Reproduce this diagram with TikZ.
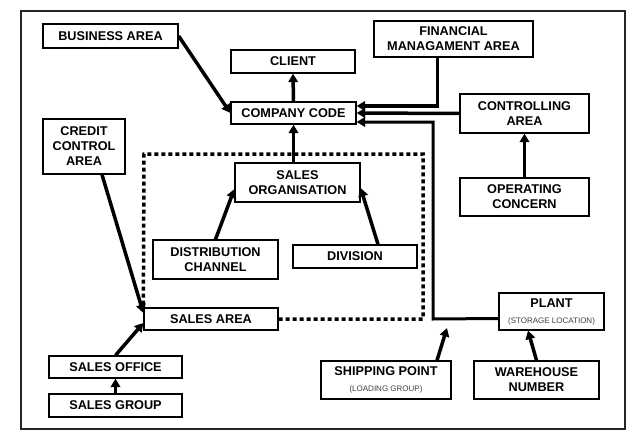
\documentclass[tikz,border=0pt]{standalone}
\usepackage{fontspec}
\setmainfont{Liberation Sans}
\usepackage{tikz}
\usetikzlibrary{arrows.meta}
\newcommand{\smallnote}[1]{{\fontsize{8}{9}\selectfont\mdseries\color{black!75}#1}}

\begin{document}
\begin{tikzpicture}[x=1pt, y=-1pt,
		box/.style = {draw, line width=1.3pt, align=center, inner sep=0pt, font=\fontsize{12.7}{15}\selectfont\bfseries},
		arr/.style = {line width=3.5pt, -{Triangle[width=9.5pt,length=8.5pt]}},
		dotline/.style = {line width=3.5pt, dash pattern=on 4pt off 3pt}]
		\useasboundingbox (0,0) rectangle (633,439);
		\draw[line width=1.3pt, black!85] (21,11) rectangle (625,429);
		% boxes
		\node[box, minimum width=135pt, minimum height=24pt] (ba) at (110.5,36) {BUSINESS AREA};
		\node[box, minimum width=124pt, minimum height=23pt] (cl) at (293,61.5) {CLIENT};
		\node[box, minimum width=125pt, minimum height=22pt] (cc) at (293.5,113) {COMPANY CODE};
		\node[box, minimum width=159pt, minimum height=36pt] (fma) at (453.5,39) {FINANCIAL\\MANAGAMENT AREA};
		\node[box, minimum width=129pt, minimum height=39pt] (ca) at (524.5,113.5) {CONTROLLING\\AREA};
		\node[box, minimum width=129pt, minimum height=38pt] (oc) at (524.5,197) {OPERATING\\CONCERN};
		\node[box, minimum width=82pt, minimum height=55pt] (cca) at (84,146.5) {CREDIT\\CONTROL\\AREA};
		\node[box, minimum width=125pt, minimum height=39pt] (so) at (297.5,182.5) {SALES\\ORGANISATION};
		\node[box, minimum width=125pt, minimum height=39pt] (dc) at (215.5,259.5) {DISTRIBUTION\\CHANNEL};
		\node[box, minimum width=124pt, minimum height=23pt] (dv) at (355,256.5) {DIVISION};
		\node[box, minimum width=134pt, minimum height=22pt] (sa) at (211,319) {SALES AREA};
		\node[box, minimum width=133pt, minimum height=22pt] (sof) at (115.5,367) {SALES OFFICE};
		\node[box, minimum width=133pt, minimum height=23pt] (sg) at (115.5,405.5) {SALES GROUP};
		\node[box, minimum width=105pt, minimum height=37pt] (pl) at (551.5,311.5) {PLANT\\[1pt]\smallnote{(STORAGE LOCATION)}};
		\node[box, minimum width=130pt, minimum height=38pt] (sp) at (386,380) {SHIPPING POINT\\[1pt]\smallnote{(LOADING GROUP)}};
		\node[box, minimum width=125pt, minimum height=38pt] (wh) at (536.5,380) {WAREHOUSE\\NUMBER};
		\coordinate (pbend) at (433,319);
		\coordinate (shipend) at (447,328);
		% sales area frame
		\draw[dotline] (sa.east) -- (423,319) -- (423,154) -- (144,154) -- (sa.north west);
		% arrows
		\draw[arr] (ba.east) -- (cc.west);
		\draw[arr] (cc.north) -- (cl.south);
		\draw[arr] (so.north -| cc.south) -- (cc.south);
		\draw[arr] (dc.north) -- (so.186);
		\draw[arr] ([xshift=23pt]dv.north) -- (so.355);
		\draw[arr] ([xshift=18pt]cca.south) -- ([yshift=6pt]sa.west);
		\draw[arr] (sof.north) -- ([yshift=-4pt]sa.west);
		\draw[arr] (sg.north) -- (sof.south);
		\draw[arr] ([xshift=-16pt]fma.south) |- ([yshift=7pt]cc.east);
		\draw[arr] (ca.west) -- (cc.east);
		\draw[arr, line width=3pt] ([yshift=-7pt]pl.west) -- (pbend) |- ([yshift=-9pt]cc.east);
		\draw[arr] ([xshift=51pt]sp.north) -- (shipend);
		\draw[arr] (wh.north) -- ([xshift=-23.5pt]pl.south);
		\draw[arr] (oc.north) -- (ca.south);
	\end{tikzpicture}
\end{document}
